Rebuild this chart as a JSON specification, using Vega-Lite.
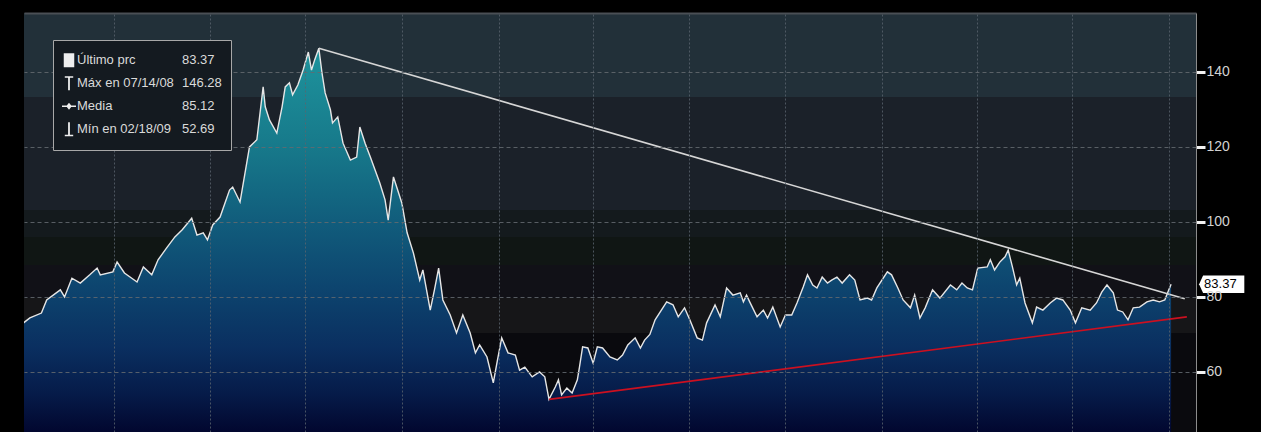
{
  "$schema": "https://vega.github.io/schema/vega-lite/v6.json",
  "width": 1172,
  "height": 419,
  "autosize": {"type": "none"},
  "padding": {"left": 24, "top": 13, "right": 65, "bottom": 0},
  "background": "#000000",
  "config": {
    "view": {"stroke": null},
    "font": "Liberation Sans, Arial, sans-serif"
  },
  "datasets": {
    "bands": [
      {"band": "b1", "lo": 133.3, "hi": 155.7},
      {"band": "b2", "lo": 103.2, "hi": 133.3},
      {"band": "b3", "lo": 96, "hi": 103.2},
      {"band": "b4", "lo": 88.5, "hi": 96},
      {"band": "b5", "lo": 79.7, "hi": 88.5},
      {"band": "b6", "lo": 70.4, "hi": 79.7},
      {"band": "b7", "lo": 44, "hi": 70.4}
    ],
    "px": [
      {"date": "2007-10-07", "price": 73.1},
      {"date": "2007-10-13", "price": 74.4},
      {"date": "2007-10-24", "price": 75.7},
      {"date": "2007-10-29", "price": 79.2},
      {"date": "2007-11-11", "price": 81.9},
      {"date": "2007-11-15", "price": 80.0},
      {"date": "2007-11-22", "price": 85.0},
      {"date": "2007-11-30", "price": 83.7},
      {"date": "2007-12-09", "price": 85.9},
      {"date": "2007-12-16", "price": 87.7},
      {"date": "2007-12-19", "price": 85.9},
      {"date": "2007-12-31", "price": 86.7},
      {"date": "2008-01-04", "price": 89.3},
      {"date": "2008-01-11", "price": 86.4},
      {"date": "2008-01-23", "price": 84.0},
      {"date": "2008-01-29", "price": 88.0},
      {"date": "2008-02-06", "price": 85.9},
      {"date": "2008-02-12", "price": 89.9},
      {"date": "2008-02-20", "price": 93.0},
      {"date": "2008-02-28", "price": 96.0},
      {"date": "2008-03-06", "price": 97.9},
      {"date": "2008-03-15", "price": 101.0},
      {"date": "2008-03-20", "price": 96.5},
      {"date": "2008-03-26", "price": 97.1},
      {"date": "2008-03-30", "price": 95.2},
      {"date": "2008-04-04", "price": 99.2},
      {"date": "2008-04-11", "price": 101.3},
      {"date": "2008-04-20", "price": 108.5},
      {"date": "2008-04-23", "price": 109.3},
      {"date": "2008-04-30", "price": 105.3},
      {"date": "2008-05-09", "price": 120.0},
      {"date": "2008-05-16", "price": 121.9},
      {"date": "2008-05-22", "price": 136.0},
      {"date": "2008-05-24", "price": 130.7},
      {"date": "2008-05-28", "price": 127.2},
      {"date": "2008-06-04", "price": 123.7},
      {"date": "2008-06-09", "price": 130.7},
      {"date": "2008-06-12", "price": 136.0},
      {"date": "2008-06-16", "price": 137.1},
      {"date": "2008-06-19", "price": 133.9},
      {"date": "2008-06-24", "price": 136.5},
      {"date": "2008-06-29", "price": 140.5},
      {"date": "2008-07-04", "price": 145.3},
      {"date": "2008-07-07", "price": 140.5},
      {"date": "2008-07-10", "price": 143.2},
      {"date": "2008-07-14", "price": 146.28},
      {"date": "2008-07-17", "price": 139.7},
      {"date": "2008-07-20", "price": 134.4},
      {"date": "2008-07-25", "price": 129.9},
      {"date": "2008-07-27", "price": 126.4},
      {"date": "2008-08-01", "price": 128.0},
      {"date": "2008-08-06", "price": 121.0},
      {"date": "2008-08-13", "price": 116.5},
      {"date": "2008-08-19", "price": 117.3},
      {"date": "2008-08-22", "price": 125.3},
      {"date": "2008-08-27", "price": 121.0},
      {"date": "2008-09-01", "price": 117.3},
      {"date": "2008-09-10", "price": 110.4},
      {"date": "2008-09-15", "price": 105.9},
      {"date": "2008-09-18", "price": 100.5},
      {"date": "2008-09-23", "price": 112.0},
      {"date": "2008-09-27", "price": 108.5},
      {"date": "2008-10-01", "price": 105.0},
      {"date": "2008-10-06", "price": 97.1},
      {"date": "2008-10-12", "price": 91.7},
      {"date": "2008-10-18", "price": 84.5},
      {"date": "2008-10-21", "price": 87.2},
      {"date": "2008-10-28", "price": 76.5},
      {"date": "2008-11-01", "price": 81.9},
      {"date": "2008-11-05", "price": 87.7},
      {"date": "2008-11-09", "price": 79.2},
      {"date": "2008-11-16", "price": 75.2},
      {"date": "2008-11-22", "price": 70.4},
      {"date": "2008-11-28", "price": 75.2},
      {"date": "2008-12-05", "price": 70.4},
      {"date": "2008-12-10", "price": 65.1},
      {"date": "2008-12-14", "price": 67.2},
      {"date": "2008-12-21", "price": 64.0},
      {"date": "2008-12-27", "price": 57.1},
      {"date": "2008-12-31", "price": 63.2},
      {"date": "2009-01-04", "price": 69.1},
      {"date": "2009-01-10", "price": 65.1},
      {"date": "2009-01-17", "price": 64.5},
      {"date": "2009-01-21", "price": 60.5},
      {"date": "2009-01-26", "price": 61.3},
      {"date": "2009-02-02", "price": 58.7},
      {"date": "2009-02-09", "price": 60.0},
      {"date": "2009-02-14", "price": 58.7},
      {"date": "2009-02-18", "price": 52.69},
      {"date": "2009-02-24", "price": 56.0},
      {"date": "2009-02-27", "price": 57.9},
      {"date": "2009-03-02", "price": 53.9},
      {"date": "2009-03-07", "price": 55.7},
      {"date": "2009-03-12", "price": 54.4},
      {"date": "2009-03-17", "price": 57.9},
      {"date": "2009-03-19", "price": 61.3},
      {"date": "2009-03-22", "price": 66.7},
      {"date": "2009-03-27", "price": 66.4},
      {"date": "2009-04-01", "price": 62.4},
      {"date": "2009-04-05", "price": 66.7},
      {"date": "2009-04-10", "price": 66.4},
      {"date": "2009-04-17", "price": 64.0},
      {"date": "2009-04-24", "price": 63.2},
      {"date": "2009-04-29", "price": 64.5},
      {"date": "2009-05-04", "price": 67.2},
      {"date": "2009-05-11", "price": 69.1},
      {"date": "2009-05-16", "price": 66.4},
      {"date": "2009-05-20", "price": 68.5},
      {"date": "2009-05-25", "price": 70.0},
      {"date": "2009-05-30", "price": 73.9},
      {"date": "2009-06-10", "price": 78.7},
      {"date": "2009-06-16", "price": 77.9},
      {"date": "2009-06-21", "price": 74.7},
      {"date": "2009-06-27", "price": 77.1},
      {"date": "2009-07-02", "price": 73.9},
      {"date": "2009-07-09", "price": 69.1},
      {"date": "2009-07-14", "price": 68.5},
      {"date": "2009-07-18", "price": 73.1},
      {"date": "2009-07-26", "price": 77.9},
      {"date": "2009-07-31", "price": 74.7},
      {"date": "2009-08-06", "price": 82.4},
      {"date": "2009-08-12", "price": 80.5},
      {"date": "2009-08-19", "price": 81.1},
      {"date": "2009-08-22", "price": 78.7},
      {"date": "2009-08-25", "price": 80.5},
      {"date": "2009-08-28", "price": 78.7},
      {"date": "2009-09-04", "price": 74.7},
      {"date": "2009-09-10", "price": 76.5},
      {"date": "2009-09-14", "price": 74.4},
      {"date": "2009-09-19", "price": 77.3},
      {"date": "2009-09-26", "price": 72.0},
      {"date": "2009-10-01", "price": 75.2},
      {"date": "2009-10-07", "price": 75.2},
      {"date": "2009-10-12", "price": 78.4},
      {"date": "2009-10-18", "price": 82.7},
      {"date": "2009-10-22", "price": 85.9},
      {"date": "2009-10-27", "price": 83.2},
      {"date": "2009-10-31", "price": 82.4},
      {"date": "2009-11-05", "price": 85.3},
      {"date": "2009-11-10", "price": 83.7},
      {"date": "2009-11-14", "price": 84.5},
      {"date": "2009-11-19", "price": 85.3},
      {"date": "2009-11-24", "price": 83.7},
      {"date": "2009-12-01", "price": 85.9},
      {"date": "2009-12-06", "price": 84.5},
      {"date": "2009-12-11", "price": 79.2},
      {"date": "2009-12-18", "price": 79.7},
      {"date": "2009-12-22", "price": 79.2},
      {"date": "2009-12-27", "price": 82.4},
      {"date": "2010-01-06", "price": 86.7},
      {"date": "2010-01-10", "price": 85.9},
      {"date": "2010-01-16", "price": 82.4},
      {"date": "2010-01-21", "price": 79.2},
      {"date": "2010-01-28", "price": 77.1},
      {"date": "2010-02-01", "price": 80.5},
      {"date": "2010-02-06", "price": 74.4},
      {"date": "2010-02-11", "price": 77.1},
      {"date": "2010-02-18", "price": 81.9},
      {"date": "2010-02-25", "price": 79.7},
      {"date": "2010-03-07", "price": 83.2},
      {"date": "2010-03-13", "price": 81.9},
      {"date": "2010-03-18", "price": 83.7},
      {"date": "2010-03-23", "price": 82.4},
      {"date": "2010-03-28", "price": 81.9},
      {"date": "2010-04-02", "price": 87.7},
      {"date": "2010-04-11", "price": 88.0},
      {"date": "2010-04-14", "price": 89.9},
      {"date": "2010-04-18", "price": 87.2},
      {"date": "2010-04-23", "price": 89.3},
      {"date": "2010-04-28", "price": 90.7},
      {"date": "2010-05-01", "price": 92.5},
      {"date": "2010-05-05", "price": 88.0},
      {"date": "2010-05-09", "price": 83.2},
      {"date": "2010-05-12", "price": 85.0},
      {"date": "2010-05-17", "price": 78.4},
      {"date": "2010-05-24", "price": 73.1},
      {"date": "2010-05-28", "price": 77.3},
      {"date": "2010-06-03", "price": 76.5},
      {"date": "2010-06-10", "price": 78.4},
      {"date": "2010-06-16", "price": 79.7},
      {"date": "2010-06-22", "price": 79.2},
      {"date": "2010-06-29", "price": 76.5},
      {"date": "2010-07-04", "price": 73.1},
      {"date": "2010-07-10", "price": 77.1},
      {"date": "2010-07-18", "price": 76.5},
      {"date": "2010-07-24", "price": 78.4},
      {"date": "2010-07-29", "price": 81.3},
      {"date": "2010-08-03", "price": 83.2},
      {"date": "2010-08-09", "price": 81.1},
      {"date": "2010-08-13", "price": 76.5},
      {"date": "2010-08-18", "price": 76.0},
      {"date": "2010-08-23", "price": 73.9},
      {"date": "2010-08-28", "price": 77.1},
      {"date": "2010-09-03", "price": 77.3},
      {"date": "2010-09-10", "price": 78.7},
      {"date": "2010-09-16", "price": 79.2},
      {"date": "2010-09-22", "price": 78.7},
      {"date": "2010-09-27", "price": 79.2},
      {"date": "2010-09-30", "price": 81.3},
      {"date": "2010-10-03", "price": 83.37}
    ],
    "trend": [
      {"date": "2008-07-14", "price": 146.28, "line": "res"},
      {"date": "2010-10-16", "price": 79.5, "line": "res"},
      {"date": "2009-02-18", "price": 52.69, "line": "sup"},
      {"date": "2010-10-18", "price": 74.7, "line": "sup"}
    ],
    "last": [
      {"date": "2010-10-03", "price": 83.37, "label": "83.37"}
    ],
    "stats": [
      {"stat": "Último prc", "val": "\u200783.37"},
      {"stat": "Máx en 07/14/08", "val": "146.28"},
      {"stat": "Media", "val": "\u200785.12"},
      {"stat": "Mín en 02/18/09", "val": "\u200752.69"}
    ]
  },
  "layer": [
    {
      "data": {"name": "bands"},
      "mark": {"type": "rect"},
      "encoding": {
        "y": {"field": "lo", "type": "quantitative", "scale": {"domain": [44, 155.7], "nice": false, "zero": false}, "title": null},
        "y2": {"field": "hi"},
        "fill": {
          "field": "band", "type": "nominal", "legend": null,
          "scale": {"domain": ["b1", "b2", "b3", "b4", "b5", "b6", "b7"], "range": ["#223039", "#1b2129", "#141a1d", "#101614", "#111117", "#161618", "#0a0a0e"]}
        }
      }
    },
    {
      "data": {"name": "px"},
      "mark": {
        "type": "area", "clip": true,
        "color": {
          "gradient": "linear", "x1": 0, "y1": 0, "x2": 0, "y2": 1,
          "stops": [
            {"offset": 0, "color": "#1e949d"},
            {"offset": 0.25, "color": "#177a8b"},
            {"offset": 0.45, "color": "#115d7c"},
            {"offset": 0.62, "color": "#0d456f"},
            {"offset": 0.78, "color": "#0a2f60"},
            {"offset": 0.9, "color": "#061b49"},
            {"offset": 1, "color": "#02072f"}
          ]
        }
      },
      "encoding": {
        "x": {
          "field": "date", "type": "temporal", "title": null,
          "scale": {"type": "utc", "domain": [{"year": 2007, "month": 10, "date": 7, "hours": 10, "utc": true}, {"year": 2010, "month": 10, "date": 26, "hours": 17, "utc": true}]},
          "axis": {
            "orient": "top", "labels": false, "ticks": false, "domain": true,
            "domainColor": "#4a4f55", "domainWidth": 2,
            "grid": true, "gridColor": "#5a646e", "gridDash": [2, 2], "gridWidth": 1, "gridOpacity": 0.8,
            "zindex": 1,
            "values": [
              {"year": 2008, "month": 1, "date": 1, "utc": true},
              {"year": 2008, "month": 4, "date": 1, "utc": true},
              {"year": 2008, "month": 7, "date": 1, "utc": true},
              {"year": 2008, "month": 10, "date": 1, "utc": true},
              {"year": 2009, "month": 1, "date": 1, "utc": true},
              {"year": 2009, "month": 4, "date": 1, "utc": true},
              {"year": 2009, "month": 7, "date": 1, "utc": true},
              {"year": 2009, "month": 10, "date": 1, "utc": true},
              {"year": 2010, "month": 1, "date": 1, "utc": true},
              {"year": 2010, "month": 4, "date": 1, "utc": true},
              {"year": 2010, "month": 7, "date": 1, "utc": true},
              {"year": 2010, "month": 10, "date": 1, "utc": true}
            ]
          }
        },
        "y": {
          "field": "price", "type": "quantitative", "title": null,
          "scale": {"domain": [44, 155.7], "nice": false, "zero": false},
          "axis": {
            "orient": "right", "values": [60, 80, 100, 120, 140],
            "grid": true, "gridColor": "#646a70", "gridDash": [4, 3], "gridWidth": 1, "gridOpacity": 0.85,
            "domain": true, "domainColor": "#8c8c8c", "domainWidth": 1,
            "ticks": true, "tickColor": "#f2f2f2", "tickSize": 9, "tickWidth": 3,
            "labelColor": "#d2d2d2", "labelFontSize": 14, "labelPadding": 1,
            "labelFont": "Liberation Sans, Arial, sans-serif",
            "zindex": 1
          }
        },
        "y2": {"datum": 44}
      }
    },
    {
      "data": {"name": "px"},
      "mark": {"type": "line", "color": "#e6e6e6", "strokeWidth": 1.4, "clip": true},
      "encoding": {
        "x": {"field": "date", "type": "temporal", "title": null},
        "y": {"field": "price", "type": "quantitative", "title": null, "scale": {"domain": [44, 155.7], "nice": false, "zero": false}}
      }
    },
    {
      "data": {"name": "trend"},
      "transform": [{"filter": "datum.line === 'res'"}],
      "mark": {"type": "line", "color": "#d6d6d6", "strokeWidth": 1.6},
      "encoding": {
        "x": {"field": "date", "type": "temporal", "title": null},
        "y": {"field": "price", "type": "quantitative", "title": null, "scale": {"domain": [44, 155.7], "nice": false, "zero": false}}
      }
    },
    {
      "data": {"name": "trend"},
      "transform": [{"filter": "datum.line === 'sup'"}],
      "mark": {"type": "line", "color": "#cc1020", "strokeWidth": 1.6},
      "encoding": {
        "x": {"field": "date", "type": "temporal", "title": null},
        "y": {"field": "price", "type": "quantitative", "title": null, "scale": {"domain": [44, 155.7], "nice": false, "zero": false}}
      }
    },
    {
      "data": {"name": "last"},
      "mark": {
        "type": "point", "filled": true, "color": "#ffffff", "opacity": 1, "strokeWidth": 0, "size": 25600,
        "shape": "M0.35,0L0.4,-0.11L0.915,-0.11L0.915,0.11L0.4,0.11Z"
      },
      "encoding": {
        "x": {"field": "date", "type": "temporal", "title": null},
        "y": {"field": "price", "type": "quantitative", "title": null, "scale": {"domain": [44, 155.7], "nice": false, "zero": false}}
      }
    },
    {
      "data": {"name": "last"},
      "mark": {
        "type": "text", "dx": 33, "align": "left", "baseline": "middle", "color": "#000000", "fontSize": 13,
        "font": "Liberation Sans, Arial, sans-serif"
      },
      "encoding": {
        "x": {"field": "date", "type": "temporal", "title": null},
        "y": {"field": "price", "type": "quantitative", "title": null, "scale": {"domain": [44, 155.7], "nice": false, "zero": false}},
        "text": {"field": "label"}
      }
    },
    {
      "data": {"name": "stats"},
      "mark": {"type": "point", "filled": true, "opacity": 0},
      "encoding": {
        "shape": {
          "field": "stat", "type": "nominal",
          "scale": {
            "domain": ["Último prc", "Máx en 07/14/08", "Media", "Mín en 02/18/09"],
            "range": [
              "M-0.75,-1H0.75V1H-0.75Z",
              "M-0.6,-1H0.6V-0.78H0.13V1H-0.13V-0.78H-0.6Z",
              "M-1,-0.09H1V0.09H-1Z M0,-0.5L0.4,0L0,0.5L-0.4,0Z",
              "M-0.13,-1H0.13V0.78H0.6V1H-0.6V0.78H-0.13Z"
            ]
          },
          "legend": {
            "orient": "none", "legendX": 29, "legendY": 27, "title": null,
            "padding": 9, "clipHeight": 22.5, "rowPadding": 0,
            "symbolSize": 196, "symbolFillColor": "#eeeeee", "symbolStrokeColor": "#eeeeee", "symbolStrokeWidth": 0,
            "symbolOpacity": 1, "labelOffset": 1, "labelLimit": 300,
            "labelFont": "Liberation Sans, Arial, sans-serif",
            "labelFontSize": 13, "labelColor": "#dadada", "zindex": 2
          }
        },
        "color": {
          "field": "val", "type": "nominal",
          "scale": {"domain": ["\u200783.37", "146.28", "\u200785.12", "\u200752.69"], "range": ["#dadada", "#dadada", "#dadada", "#dadada"]},
          "legend": {
            "orient": "none", "legendX": 29, "legendY": 27, "title": null,
            "padding": 9, "clipHeight": 22.5, "rowPadding": 0,
            "symbolSize": 0, "symbolOpacity": 0, "labelOffset": 107, "labelAlign": "left", "labelLimit": 300,
            "labelFont": "Liberation Sans, Arial, sans-serif",
            "labelFontSize": 13, "labelColor": "#dadada",
            "fillColor": "#141a20", "strokeColor": "#a8a8a8", "zindex": 1
          }
        }
      }
    }
  ]
}
